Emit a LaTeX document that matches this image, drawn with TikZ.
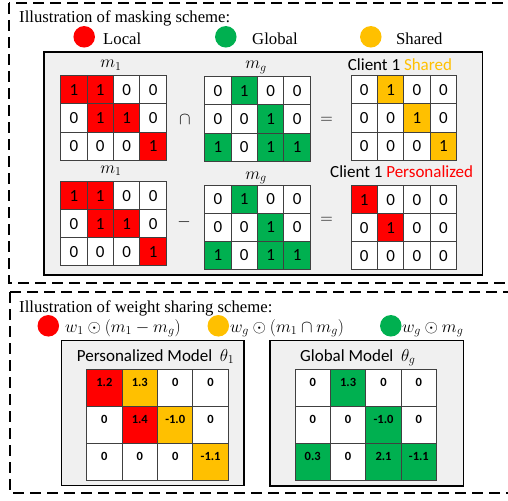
\documentclass[tikz,border=0pt]{standalone}
\usepackage{fontspec}
\setmainfont{Liberation Serif}
\newfontfamily\calib{Carlito}
\definecolor{myred}{HTML}{FF0000}
\definecolor{mygreen}{HTML}{00B050}
\definecolor{myyellow}{HTML}{FFC000}
\definecolor{boxgray}{HTML}{F0F0F0}
\definecolor{gridgray}{HTML}{404040}
\tikzset{
 dashbox/.style={line width=2pt, dash pattern=on 11pt off 6pt},
 graybox/.style={draw=black, line width=1.5pt, fill=boxgray},
 cellA/.style={draw=gridgray, line width=1pt, minimum width=26.4pt, minimum height=28pt, anchor=north west, inner sep=0pt, outer sep=0pt, font=\calib\fontsize{17}{17}\selectfont},
 cellB/.style={draw=gridgray, line width=1pt, minimum width=35.4pt, minimum height=36.9pt, anchor=north west, inner sep=0pt, outer sep=0pt},
 numB/.style={font=\calib\bfseries\fontsize{12.5}{12.5}\selectfont, inner sep=0pt},
 title/.style={font=\fontsize{16.7}{20}\selectfont, anchor=base west, inner sep=0pt},
 lab/.style={font=\calib\fontsize{17}{20}\selectfont, anchor=base west, inner sep=0pt},
 mathlab/.style={font=\fontsize{17}{20}\selectfont, inner sep=0pt},
 dot/.style={circle, minimum size=21.5pt, inner sep=0pt}
}
\newcommand\topmat[4]{%
 \foreach \val/\cl [count=\i from 0] in {#4} {
   \pgfmathtruncatemacro\col{mod(\i,4)}
   \pgfmathtruncatemacro\row{floor(\i/4)}
   \node[cellA, fill=\cl] (#1-\i) at ({#2+\col*26.4},{#3+\row*28}) {\val};
 }}
\newcommand\botmat[4]{%
 \foreach \val/\cl [count=\i from 0] in {#4} {
   \pgfmathtruncatemacro\col{mod(\i,4)}
   \pgfmathtruncatemacro\row{floor(\i/4)}
   \node[cellB, fill=\cl] (#1-\i) at ({#2+\col*35.4},{#3+\row*36.9}) {};
   \node[numB] (#1-t\i) at ([yshift=5pt]#1-\i.center) {\val};
 }}
\begin{document}
\begin{tikzpicture}[x=1pt,y=-1pt]
\useasboundingbox (0,0) rectangle (508,500);
\clip (0,0) rectangle (508,500);
% dashed frames
\draw[dashbox] (9,3) rectangle (520,283);
\draw[dashbox] (10,292) rectangle (520,493);
% ---------- masking scheme ----------
\node[title] (t1) at (19,23) {Illustration of masking scheme:};
\node[dot, fill=myred] (c1) at (84.2,36.8) {};
\node[title] (l1) at (103,45) {Local};
\node[dot, fill=mygreen] (c2) at (225.8,36.8) {};
\node[title] (l2) at (252,45) {Global};
\node[dot, fill=myyellow] (c3) at (370.8,36.8) {};
\node[title] (l3) at (396,45) {Shared};
\draw[graybox] (44,52) rectangle (482.5,275);
% labels
\node[mathlab, anchor=base] (ma1) at (111,68) {$m_1$};
\node[mathlab, anchor=base] (mg1) at (256,69) {$m_g$};
\node[mathlab, anchor=base] (ma2) at (111,173) {$m_1$};
\node[mathlab, anchor=base] (mg2) at (256,179) {$m_g$};
\node[lab] (cs) at (347.7,70.5) {Client 1 \textcolor{myyellow}{Shared}};
\node[lab] (cp) at (330,177.5) {Client 1 \textcolor{myred}{Personalized}};
\node[mathlab] (op1) at (185,120) {$\cap$};
\node[mathlab] (op2) at (184,222) {$-$};
\node[mathlab] (eq1) at (326.7,120) {$=$};
\node[mathlab] (eq2) at (326.7,220) {$=$};
% matrices
\topmat{A}{60.7}{76}{1/myred,1/myred,0/white,0/white,0/white,1/myred,1/myred,0/white,0/white,0/white,0/white,1/myred}
\topmat{B}{204.7}{77}{0/white,1/mygreen,0/white,0/white,0/white,0/white,1/mygreen,0/white,1/mygreen,0/white,1/mygreen,1/mygreen}
\topmat{C}{351}{76}{0/white,1/myyellow,0/white,0/white,0/white,0/white,1/myyellow,0/white,0/white,0/white,0/white,1/myyellow}
\topmat{D}{60.7}{181.7}{1/myred,1/myred,0/white,0/white,0/white,1/myred,1/myred,0/white,0/white,0/white,0/white,1/myred}
\topmat{E}{204.7}{185}{0/white,1/mygreen,0/white,0/white,0/white,0/white,1/mygreen,0/white,1/mygreen,0/white,1/mygreen,1/mygreen}
\topmat{F}{351}{185.7}{1/myred,0/white,0/white,0/white,0/white,1/myred,0/white,0/white,0/white,0/white,0/white,0/white}
% ---------- weight sharing scheme ----------
\node[title] (t2) at (19,312) {Illustration of weight sharing scheme:};
\node[dot, fill=myred] (d1) at (48.3,325.8) {};
\node[mathlab, anchor=base west] (w1) at (65,332) {$w_1\odot(m_1-m_g)$};
\node[dot, fill=myyellow] (d2) at (218.3,325.8) {};
\node[mathlab, anchor=base west] (w2) at (230,332) {$w_g\odot(m_1\cap m_g)$};
\node[dot, fill=mygreen] (d3) at (390.8,325.8) {};
\node[mathlab, anchor=base west] (w3) at (402,332) {$w_g\odot m_g$};
\draw[graybox] (61.7,340.7) rectangle (244,485.7);
\draw[graybox] (270,340.7) rectangle (463.3,486);
\node[lab] (pm) at (76.7,361) {Personalized Model\ \ $\theta_1$};
\node[lab] (gm) at (300,361) {Global Model\ \ $\theta_g$};
\botmat{P}{86.7}{369.3}{1.2/myred,1.3/myyellow,0/white,0/white,0/white,1.4/myred,-1.0/myyellow,0/white,0/white,0/white,0/white,-1.1/myyellow}
\botmat{G}{295}{369.3}{0/white,1.3/mygreen,0/white,0/white,0/white,0/white,-1.0/mygreen,0/white,0.3/mygreen,0/white,2.1/mygreen,-1.1/mygreen}
\end{tikzpicture}
\end{document}
